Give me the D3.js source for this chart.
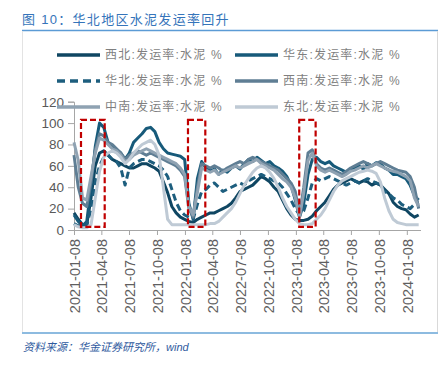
<!DOCTYPE html>
<html>
<head>
<meta charset="utf-8">
<script src="https://cdn.jsdelivr.net/npm/d3@7"></script>
<style>
  html, body { margin: 0; padding: 0; background: #fff; }
  svg { display: block; }
</style>
</head>
<body>
<div id="chart"></div>
<script>
// bi-weekly sample dates
const dates = [
  "2021-01-08","2021-01-22","2021-02-05","2021-02-19","2021-03-05","2021-03-19","2021-04-02","2021-04-16","2021-04-30","2021-05-14",
  "2021-05-28","2021-06-11","2021-06-25","2021-07-09","2021-07-23","2021-08-06","2021-08-20","2021-09-03","2021-09-17","2021-10-01",
  "2021-10-15","2021-10-29","2021-11-12","2021-11-26","2021-12-10","2021-12-24","2022-01-07","2022-01-21","2022-02-04","2022-02-18",
  "2022-03-04","2022-03-18","2022-04-01","2022-04-15","2022-04-29","2022-05-13","2022-05-27","2022-06-10","2022-06-24","2022-07-08",
  "2022-07-22","2022-08-05","2022-08-19","2022-09-02","2022-09-16","2022-09-30","2022-10-14","2022-10-28","2022-11-11","2022-11-25",
  "2022-12-09","2022-12-23","2023-01-06","2023-01-20","2023-02-03","2023-02-17","2023-03-03","2023-03-17","2023-03-31","2023-04-14",
  "2023-04-28","2023-05-12","2023-05-26","2023-06-09","2023-06-23","2023-07-07","2023-07-21","2023-08-04","2023-08-18","2023-09-01",
  "2023-09-15","2023-09-29","2023-10-13","2023-10-27","2023-11-10","2023-11-24","2023-12-08","2023-12-22","2024-01-05","2024-01-19",
  "2024-02-02","2024-02-16"
];

const xibei = [16, 10, 5, 5, 30, 60, 72, 74, 70, 66,
  64, 62, 60, 58, 58, 60, 62, 62, 60, 58,
  55, 45, 35, 22, 16, 12, 10, 8, 7, 10,
  12, 14, 16, 16, 18, 20, 22, 25, 30, 36,
  38, 40, 42, 46, 50, 48, 45, 40, 36, 28,
  20, 14, 10, 9, 9, 10, 13, 18, 22, 26,
  32, 38, 42, 44, 46, 48, 46, 44, 46, 45,
  42, 44, 42, 38, 34, 26, 22, 20, 19, 15,
  12, 14];

const huadong = [14, 8, 4, 8, 40, 78, 100, 96, 82, 78,
  75, 72, 66, 72, 82, 86, 90, 95, 96, 92,
  82, 76, 72, 71, 70, 69, 66, 25, 10, 48,
  64, 58, 55, 57, 52, 56, 54, 58, 60, 57,
  62, 66, 64, 68, 65, 62, 64, 60, 58, 55,
  50, 42, 28, 12, 25, 52, 66, 68, 64, 62,
  64, 60, 58, 56, 54, 56, 58, 60, 57, 62,
  60, 63, 62, 58, 56, 52, 52, 50, 48, 42,
  32, 28];

const huabei = [6, 4, 3, 4, 20, 45, 60, 68, 70, 66,
  64, 58, 42, 58, 62, 64, 66, 66, 64, 62,
  60, 56, 50, 38, 26, 18, 14, 12, 10, 24,
  36, 38, 42, 44, 40, 36, 38, 40, 42, 44,
  42, 46, 48, 50, 52, 50, 48, 46, 44, 40,
  34, 28, 20, 14, 18, 30, 44, 48, 46, 48,
  50, 48, 46, 44, 42, 44, 46, 44, 46, 48,
  46, 44, 42, 36, 34, 30, 28, 24, 22, 20,
  24, 26];

const xinan = [70, 40, 25, 22, 45, 75, 90, 88, 82, 80,
  76, 72, 66, 70, 72, 74, 72, 70, 72, 70,
  68, 66, 64, 62, 60, 56, 50, 20, 12, 40,
  62, 60, 58, 60, 58, 55, 58, 60, 62, 64,
  62, 66, 68, 66, 64, 62, 60, 58, 56, 52,
  48, 44, 36, 14, 40, 72, 75, 62, 58, 56,
  58, 56, 54, 52, 55, 58, 60, 62, 64, 62,
  60, 62, 64, 62, 60, 58, 56, 55, 54, 50,
  40, 20];

const zhongnan = [82, 65, 30, 28, 50, 72, 86, 84, 80, 76,
  74, 70, 64, 66, 70, 72, 74, 76, 74, 72,
  70, 68, 66, 64, 62, 58, 52, 22, 14, 35,
  58, 56, 54, 56, 52, 54, 56, 58, 60, 58,
  60, 62, 64, 66, 62, 60, 58, 56, 52, 48,
  45, 40, 30, 12, 35, 65, 72, 60, 56, 54,
  56, 54, 52, 50, 52, 55, 56, 58, 60, 58,
  60, 62, 60, 58, 56, 55, 54, 52, 50, 46,
  30, 22];

const dongbei = [5, 3, 2, 2, 5, 30, 55, 68, 72, 74,
  72, 68, 62, 66, 72, 76, 80, 82, 84, 80,
  70, 40, 10, 5, 5, 5, 5, 5, 5, 5,
  5, 5, 6, 6, 8, 12, 16, 20, 26, 34,
  42, 48, 54, 58, 60, 58, 54, 48, 40, 30,
  22, 16, 10, 6, 5, 5, 6, 10, 14, 20,
  28, 36, 42, 46, 48, 50, 52, 54, 55, 56,
  55, 53, 45, 30, 18, 10, 7, 6, 5, 5,
  5, 5];

const seriesNames = ["西北:发运率:水泥 %", "华东:发运率:水泥 %", "华北:发运率:水泥 %",
                     "西南:发运率:水泥 %", "中南:发运率:水泥 %", "东北:发运率:水泥 %"];
const seriesValues = [xibei, huadong, huabei, xinan, zhongnan, dongbei];

const xTicks = ["2021-01-08","2021-04-08","2021-07-08","2021-10-08","2022-01-08","2022-04-08",
  "2022-07-08","2022-10-08","2023-01-08","2023-04-08","2023-07-08","2023-10-08","2024-01-08"];
const yTicks = [0, 20, 40, 60, 80, 100, 120];

// Spring-festival windows highlighted with red dashed boxes
const boxStart = ["2021-01-31", "2022-01-18", "2023-01-19"];
const boxEnd = ["2021-04-19", "2022-03-16", "2023-03-14"];
const boxTop = 103, boxBottom = 3;

const parse = d3.timeParse("%Y-%m-%d");
const colors = ["#0f4662", "#175a7a", "#1d5e7e", "#5f7e94", "#8fa2b2", "#bfcad5"];
const fontFamily = "'Liberation Sans', Arial, 'Noto Sans CJK SC', sans-serif";

const W = 448, H = 365;
const svg = d3.select("#chart").append("svg")
  .attr("width", W).attr("height", H)
  .style("font-family", fontFamily);

// Title and frame
svg.append("text")
  .attr("x", 22).attr("y", 24)
  .attr("fill", "#3574ba")
  .style("font-size", "13px")
  .style("letter-spacing", "1.3px")
  .text("图 10：华北地区水泥发运率回升");

svg.append("line").attr("x1", 22).attr("x2", 438).attr("y1", 30.5).attr("y2", 30.5)
  .attr("stroke", "#5b9bd5").attr("stroke-width", 1.5);
svg.append("line").attr("x1", 22.5).attr("x2", 22.5).attr("y1", 31).attr("y2", 332)
  .attr("stroke", "#e3e3e3").attr("stroke-width", 1);
svg.append("line").attr("x1", 437.5).attr("x2", 437.5).attr("y1", 31).attr("y2", 332)
  .attr("stroke", "#d9d9d9").attr("stroke-width", 1);
svg.append("line").attr("x1", 22).attr("x2", 438).attr("y1", 333).attr("y2", 333)
  .attr("stroke", "#8dbbe0").attr("stroke-width", 2);

svg.append("text")
  .attr("x", 23).attr("y", 351)
  .attr("fill", "#2f5a9e")
  .style("font-size", "11px")
  .style("font-style", "italic")
  .text("资料来源：华金证券研究所，wind");

// Scales
const x = d3.scaleTime()
  .domain([parse("2021-01-08"), parse("2024-02-22")])
  .range([74, 420.5]);
const y = d3.scaleLinear().domain([0, 120]).range([230, 101.7]);

// Y axis
const yAxis = svg.append("g")
  .attr("transform", "translate(74,0)")
  .call(d3.axisLeft(y).tickValues(yTicks).tickSize(6).tickPadding(4));
yAxis.select(".domain").attr("stroke", "#a6a6a6");
yAxis.selectAll(".tick line").attr("stroke", "#a6a6a6");
yAxis.selectAll("text")
  .attr("fill", "#595959")
  .style("font-size", "13.5px")
  .style("font-family", fontFamily);

// X axis
const xAxis = svg.append("g")
  .attr("transform", "translate(0,230)")
  .call(d3.axisBottom(x).tickValues(xTicks.map(parse)).tickSize(5).tickSizeOuter(0)
    .tickFormat(d3.timeFormat("%Y-%m-%d")));
xAxis.select(".domain").attr("stroke", "#a6a6a6");
xAxis.selectAll(".tick line").attr("stroke", "#a6a6a6");
xAxis.selectAll("text")
  .attr("fill", "#5f5f5f")
  .style("font-size", "14.5px")
  .style("font-family", fontFamily)
  .attr("text-anchor", "end")
  .attr("transform", "rotate(-90)")
  .attr("x", -9)
  .attr("y", 0)
  .attr("dy", "0.36em");

// Lines
const line = d3.line()
  .x((d, i) => x(parse(dates[i])))
  .y(d => y(d));

seriesValues.forEach((vals, k) => {
  svg.append("path")
    .datum(vals)
    .attr("fill", "none")
    .attr("stroke", colors[k])
    .attr("stroke-width", 3)
    .attr("stroke-linejoin", "round")
    .attr("stroke-dasharray", k === 2 ? "7,4" : null)
    .attr("d", line);
});

// Red dashed boxes
boxStart.forEach((s, i) => {
  svg.append("rect")
    .attr("x", x(parse(s)))
    .attr("y", y(boxTop))
    .attr("width", x(parse(boxEnd[i])) - x(parse(s)))
    .attr("height", y(boxBottom) - y(boxTop))
    .attr("fill", "none")
    .attr("stroke", "#c00000")
    .attr("stroke-width", 2.2)
    .attr("stroke-dasharray", "6,3");
});

// Legend (3 rows x 2 columns)
const legend = svg.append("g")
  .selectAll("g")
  .data(seriesNames)
  .enter().append("g")
  .attr("transform", (d, i) => `translate(${i % 2 === 0 ? 57 : 235},${55 + Math.floor(i / 2) * 26})`);

legend.append("line")
  .attr("x1", 0).attr("x2", 43)
  .attr("stroke", (d, i) => colors[i])
  .attr("stroke-width", 3.5)
  .attr("stroke-dasharray", (d, i) => i === 2 ? "8,5" : null);

legend.append("text")
  .attr("x", 48)
  .attr("dy", "0.36em")
  .attr("fill", "#7f7f7f")
  .style("font-size", "12px")
  .style("letter-spacing", "1.2px")
  .text(d => d);
</script>
</body>
</html>
